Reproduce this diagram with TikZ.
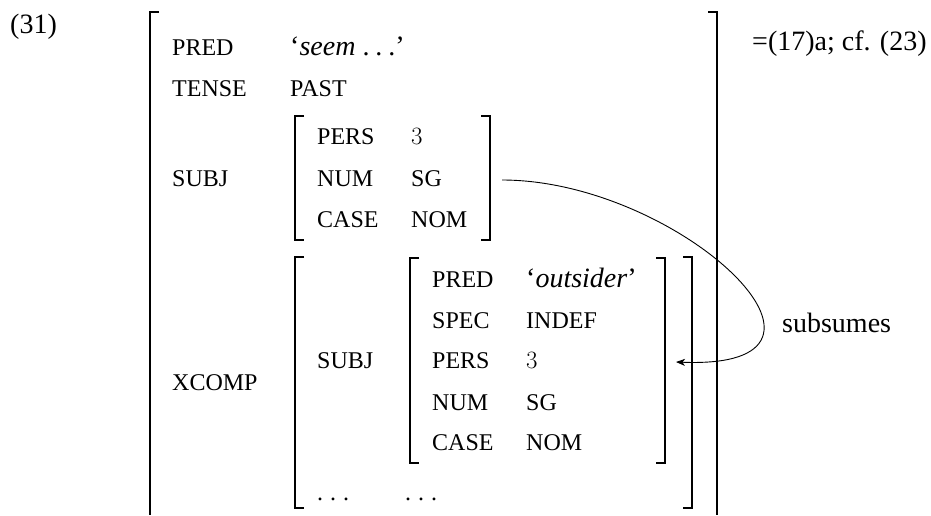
\documentclass[tikz,border=0pt]{standalone}
\usepackage{fontspec}
\setmainfont{Liberation Serif}
\usetikzlibrary{arrows.meta}
\tikzset{
  lbl/.style={anchor=base west, inner sep=0pt, font=\fontsize{24}{28}\selectfont},
  txt/.style={anchor=base west, inner sep=0pt, font=\fontsize{28}{32}\selectfont},
  brk/.style={line width=1.8pt},
  link/.style={line width=0.9pt, -{Stealth[length=9pt,width=7pt,inset=2.5pt]}},
}
\newcommand{\dotsx}{.\kern7pt.\kern7pt.}
\newcommand{\lbrk}[3]{\draw[brk] (#1+9,#2) -- (#1,#2) -- (#1,#3) -- (#1+9,#3);}
\newcommand{\rbrk}[3]{\draw[brk] (#1-9,#2) -- (#1,#2) -- (#1,#3) -- (#1-9,#3);}
\begin{document}
\begin{tikzpicture}[x=1pt,y=-1pt]
\useasboundingbox (0,0) rectangle (931,515);
% texts
\node[txt] (ex) at (10,33) {(31)};
\node[lbl] (pred) at (172,55) {PRED};
\node[txt] (predv) at (290,55) {‘\textit{seem} .\kern6pt.\kern6pt.’};
\node[lbl] (tense) at (172,96) {TENSE};
\node[lbl] (tensev) at (290,96) {PAST};
\node[lbl] (subj) at (172,186) {SUBJ};
\node[lbl] (pers1) at (317,144) {PERS};
\node[txt] (pers1v) at (411,144) {$3$};
\node[lbl] (num1) at (317,186) {NUM};
\node[lbl] (num1v) at (411,186) {SG};
\node[lbl] (case1) at (317,227) {CASE};
\node[lbl] (case1v) at (411,227) {NOM};
\node[lbl] (xcomp) at (172,390) {XCOMP};
\node[lbl] (subj2) at (317,368) {SUBJ};
\node[lbl] (pred2) at (432,287) {PRED};
\node[txt] (pred2v) at (526,287) {‘\textit{outsider}’};
\node[lbl] (spec2) at (432,328) {SPEC};
\node[lbl] (spec2v) at (526,328) {INDEF};
\node[lbl] (pers2) at (432,368) {PERS};
\node[txt] (pers2v) at (526,368) {$3$};
\node[lbl] (num2) at (432,410) {NUM};
\node[lbl] (num2v) at (526,410) {SG};
\node[lbl] (case2) at (432,450) {CASE};
\node[lbl] (case2v) at (526,450) {NOM};
\node[lbl] (dots1) at (317,500) {\dotsx};
\node[lbl] (dots2) at (405,500) {\dotsx};
\node[txt] (ref) at (752,50) {=(17)a; cf. (23)};
\node[txt] (subs) at (782,332) {subsumes};
% brackets
\draw[brk] (159,12) -- (150,12) -- (150,515);
\draw[brk] (708,12) -- (717,12) -- (717,515);
\lbrk{295}{116}{240}
\rbrk{490}{116}{240}
\lbrk{295}{257}{508}
\rbrk{692}{257}{508}
\lbrk{410}{258}{463}
\rbrk{665}{258}{463}
% arrow
\coordinate (from) at (502,180);
\coordinate (to) at (676,362);
\draw[link] (from) .. controls (680,180) and (880,370) .. (to);
\end{tikzpicture}
\end{document}
